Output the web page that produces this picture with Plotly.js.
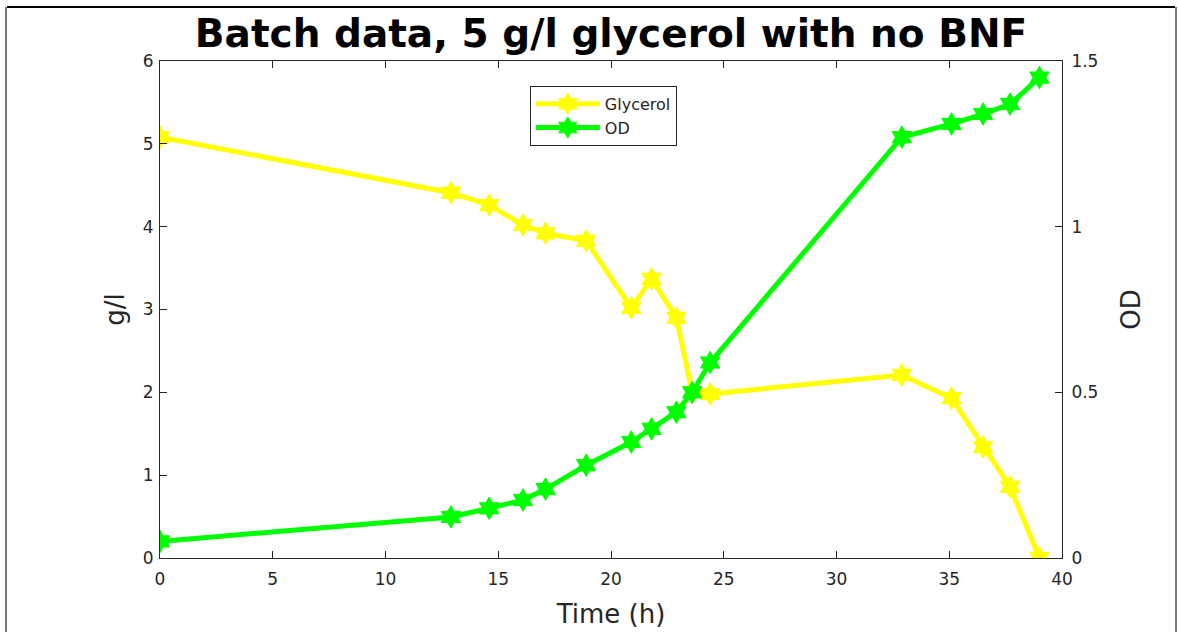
<!DOCTYPE html>
<html>
<head>
<meta charset="utf-8">
<script src="https://cdn.plot.ly/plotly-3.0.1.min.js"></script>
<style>
  html, body { margin:0; padding:0; background:#fff; }
  #wrap { position:relative; width:1178px; height:632px; overflow:hidden; }
  #chart { position:absolute; left:0; top:0; width:1178px; height:632px; }
  .fl { position:absolute; background:#7a7a7a; }
</style>
</head>
<body>
<div id="wrap">
  <div id="chart"></div>
  <div class="fl" style="left:5px; top:7px; width:2px; height:625px;"></div>
  <div class="fl" style="left:7px; top:6px; width:1168px; height:2px; background:#000;"></div>
  <div class="fl" style="left:1175px; top:7px; width:2px; height:625px;"></div>
</div>
<script>
const timeH = [0, 12.9, 14.6, 16.1, 17.1, 18.9, 20.9, 21.8, 22.9, 23.6, 24.4, 32.9, 35.1, 36.5, 37.7, 39.0];
const glycerol = [5.08, 4.41, 4.26, 4.02, 3.92, 3.83, 3.02, 3.37, 2.90, 2.00, 1.98, 2.21, 1.93, 1.34, 0.86, 0.00];
const od = [0.05, 0.124, 0.15, 0.175, 0.208, 0.28, 0.35, 0.39, 0.44, 0.50, 0.59, 1.27, 1.31, 1.34, 1.37, 1.45];
const xTicks = [0, 5, 10, 15, 20, 25, 30, 35, 40];
const yTicks = [0, 1, 2, 3, 4, 5, 6];
const y2Ticks = [0, 0.5, 1, 1.5];
const y2TickText = ['0', '0.5', '1', '1.5'];

const axisColor = '#262626';
const font = 'DejaVu Sans, sans-serif';

const traces = [
  {
    x: timeH, y: glycerol, name: 'Glycerol', type: 'scatter', mode: 'lines+markers',
    line: {color: '#FFFF00', width: 5},
    marker: {symbol: 'hexagram', size: 17, color: '#FFFF00', line: {color: '#FFFF00', width: 1}},
    yaxis: 'y'
  },
  {
    x: timeH, y: od, name: 'OD', type: 'scatter', mode: 'lines+markers',
    line: {color: '#00FF00', width: 5},
    marker: {symbol: 'hexagram', size: 17, color: '#00FF00', line: {color: '#00FF00', width: 1}},
    yaxis: 'y2'
  }
];

const layout = {
  width: 1178, height: 632,
  paper_bgcolor: '#ffffff', plot_bgcolor: '#ffffff',
  margin: {l: 160, r: 116, t: 61, b: 74},
  font: {family: font, color: axisColor, size: 17},
  title: {
    text: '<b>Batch data, 5 g/l glycerol with no BNF</b>',
    font: {family: font, size: 39, color: '#000'},
    x: 0.5187, xanchor: 'center', y: 0.948, yanchor: 'middle'
  },
  showlegend: true,
  legend: {
    x: 0.41, y: 0.95, xanchor: 'left', yanchor: 'top',
    bgcolor: '#ffffff', bordercolor: axisColor, borderwidth: 1,
    font: {family: font, size: 16, color: axisColor},
    tracegroupgap: 0, itemwidth: 64
  },
  xaxis: {
    range: [0, 40], tickvals: xTicks, ticktext: xTicks.map(String),
    showgrid: false, zeroline: false, showline: true, linecolor: axisColor, linewidth: 1,
    mirror: 'ticks', ticks: 'inside', ticklen: 7, tickcolor: axisColor, ticklabelstandoff: 6,
    tickfont: {family: font, size: 17, color: axisColor},
    title: {text: 'Time (h)', font: {family: font, size: 26, color: axisColor}, standoff: 16}
  },
  yaxis: {
    range: [0, 6], tickvals: yTicks, ticktext: yTicks.map(String),
    showgrid: false, zeroline: false, showline: true, linecolor: axisColor, linewidth: 1,
    ticks: 'inside', ticklen: 7, tickcolor: axisColor, ticklabelstandoff: 2,
    tickfont: {family: font, size: 17, color: axisColor},
    title: {text: 'g/l', font: {family: font, size: 26, color: axisColor}, standoff: 10}
  },
  yaxis2: {
    range: [0, 1.5], tickvals: y2Ticks, ticktext: y2TickText, overlaying: 'y', side: 'right',
    showgrid: false, zeroline: false, showline: true, linecolor: axisColor, linewidth: 1,
    ticks: 'inside', ticklen: 7, tickcolor: axisColor, ticklabelstandoff: 5,
    tickfont: {family: font, size: 17, color: axisColor},
    title: {text: 'OD', font: {family: font, size: 26, color: axisColor}, standoff: 24}
  }
};

Plotly.newPlot('chart', traces, layout, {displayModeBar: false, staticPlot: true});
</script>
</body>
</html>
